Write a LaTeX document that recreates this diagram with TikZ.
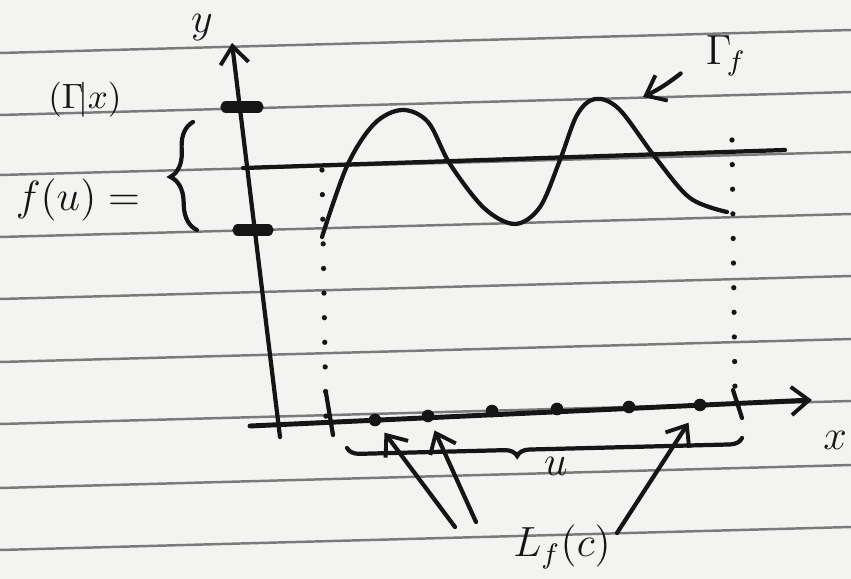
\documentclass[tikz,border=0pt]{standalone}
\usepackage{amsmath,amssymb}
\usepackage{tikz}
\usetikzlibrary{arrows.meta, positioning, decorations.pathreplacing, calc}
\definecolor{ink}{HTML}{151515}
\definecolor{paper}{HTML}{F3F3F1}
\definecolor{ruling}{HTML}{7A7A7A}

\tikzset{
  pen/.style={draw=ink, line width=1.2pt, line cap=round},
  ruled/.style={draw=ruling, line width=0.7pt},
  dotted line/.style={draw=ink, line width=1.5pt, line cap=round, dash pattern=on 0pt off 7pt},
  hand/.style={text=ink, inner sep=1pt},
  barb/.style={-{Straight Barb[length=5pt, width=8pt, line width=1.1pt]}},
  dot/.style={circle, fill=ink, inner sep=0pt, minimum size=3.6pt},
}

\begin{document}
\begin{tikzpicture}[x=0.01cm,y=-0.01cm]
\fill[paper] (0,0) rectangle (851,579);
\useasboundingbox (0,0) rectangle (851,579);
\foreach \h in {53,115,175,237,299,362,424,488,550}
  \draw[ruled] (0,\h) -- (851,\h-23);

\coordinate (ybot) at (280,437);
\coordinate (ytop) at (232,43);
\coordinate (xleft) at (250,426);
\coordinate (xright) at (812,400);
\draw[pen, barb] (ybot) -- (ytop);
\draw[pen, line width=1.4pt, barb] (xleft) -- (xright);

\node[hand, font=\large] (ylab) at (202,28) {$y$};
\node[hand, font=\large] (xlab) at (835,440) {$x$};

\draw[pen, line width=3.2pt] (226,107) -- (258,107);
\draw[pen, line width=3.2pt] (238,230) -- (268,230);

\coordinate (hleft) at (243,168);
\coordinate (hright) at (785,150);
\draw[pen] (hleft) -- (hright);

\draw[pen] plot[smooth, tension=0.55] coordinates
  {(322,237) (347,166) (374,124) (402,110) (428,122) (450,164) (484,208) (515,224)
   (540,207) (560,160) (577,115) (595,99) (619,109) (655,157) (690,198) (727,212)};

\draw[dotted line] (322,170) -- (326,418);
\draw[dotted line] (732,140) -- (735,392);
\draw[pen] (326,393) -- (333,435);
\draw[pen] (733,390) -- (742,418);

\node[hand] (gx) at (85,100) {$(\Gamma\!|x)$};
\node[hand, font=\large] (fu) at (78,200) {$f(u) =$};
\draw[pen, decorate, decoration={brace, amplitude=7pt}] (197,230) -- (193,122);

\node[hand, font=\large] (gam) at (726,56) {$\Gamma_{\!f}$};
\coordinate (gtip) at (643,97);
\draw[pen, barb] ([xshift=-6pt, yshift=2pt]gam.south west) to[bend left=6] (gtip);

\node[dot] (d1) at (375,420) {};
\node[dot] (d2) at (428,416) {};
\node[dot] (d3) at (492,411) {};
\node[dot] (d4) at (557,409) {};
\node[dot] (d5) at (629,407) {};
\node[dot] (d6) at (700,405) {};

\draw[pen, decorate, decoration={brace, amplitude=3.5pt, aspect=0.57}] (742,438) -- (347,448);
\node[hand, font=\large] (ulab) at (556,466) {$u$};

\node[hand, font=\large] (lfc) at (562,547) {$L_f(c)$};
\coordinate (t1) at (455,527);
\coordinate (t2) at (476,522);
\coordinate (t3) at (617,533);
\draw[pen, barb, shorten >=2.5pt] (t1) -- (d1);
\draw[pen, barb, shorten >=2.5pt] (t2) -- (d2);
\draw[pen, barb, shorten >=4pt] (t3) -- (d6);
\end{tikzpicture}
\end{document}
